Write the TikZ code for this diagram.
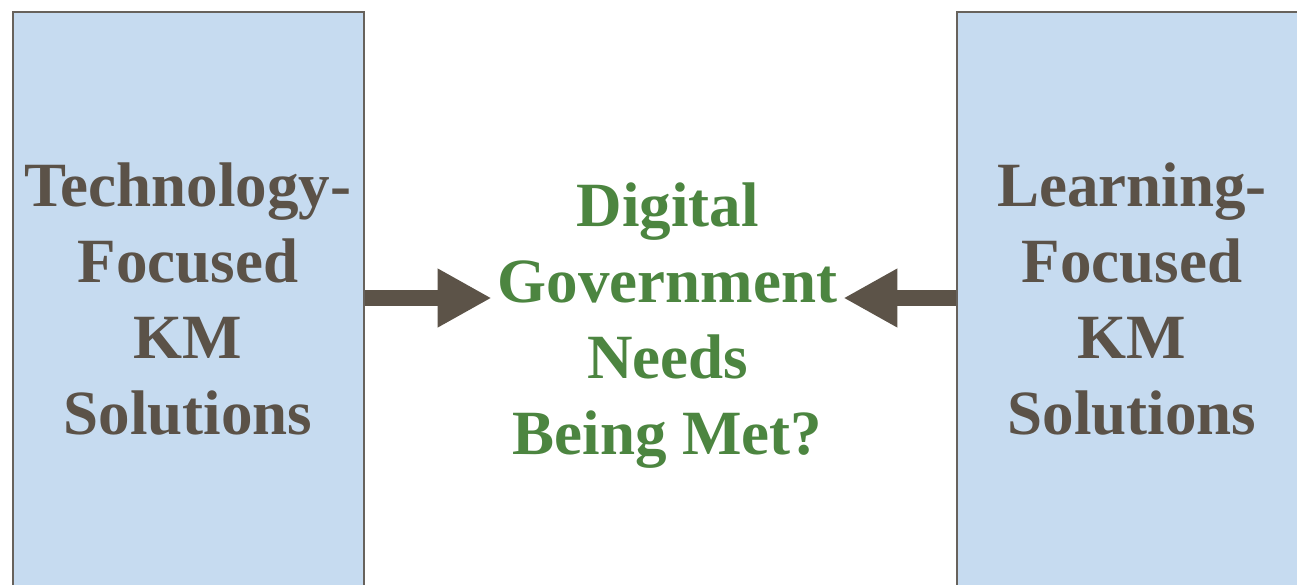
\documentclass[tikz,border=0pt]{standalone}
\usepackage{fontspec}
\setmainfont{Liberation Serif}
\usetikzlibrary{arrows.meta}
\definecolor{boxfill}{HTML}{C6DBF0}
\definecolor{boxline}{HTML}{67625C}
\definecolor{txtbrown}{HTML}{5B5248}
\definecolor{txtgreen}{HTML}{4C8540}
\definecolor{arrowc}{HTML}{5C5348}
\tikzset{
  kmbox/.style={draw=boxline, line width=2.2pt, fill=boxfill, minimum width=351.5pt, minimum height=700pt, anchor=north west, inner sep=0pt},
  kmtext/.style={text=txtbrown, align=center, font=\fontsize{63pt}{76pt}\selectfont\bfseries, inner sep=0pt},
  midtext/.style={text=txtgreen, align=center, font=\fontsize{63pt}{76pt}\selectfont\bfseries, inner xsep=6pt, inner ysep=0pt},
  bigarrow/.style={draw=arrowc, line width=16pt, -{Triangle[length=54pt,width=55pt]}, fill=arrowc}
}
\begin{document}
\begin{tikzpicture}[x=1pt,y=-1pt]
\clip (0,0) rectangle (1297,584);
\fill[white] (0,0) rectangle (1297,584);
\node[kmbox] (lbox) at (11.5,10.5) {};
\node[kmbox] (rbox) at (955.5,10.5) {};
\node[kmtext] (ltext) at (188,299) {Technology-\\Focused\\KM\\Solutions};
\node[kmtext] (rtext) at (1132,299) {Learning-\\Focused\\KM\\Solutions};
\node[midtext] (mid) at (667.5,326) {Digital\\Government\\Needs\\Being Met?};
\coordinate (ay) at (0,298);
\draw[bigarrow] (lbox.east |- ay) -- (mid.west |- ay);
\draw[bigarrow] (rbox.west |- ay) -- (mid.east |- ay);
\end{tikzpicture}
\end{document}
